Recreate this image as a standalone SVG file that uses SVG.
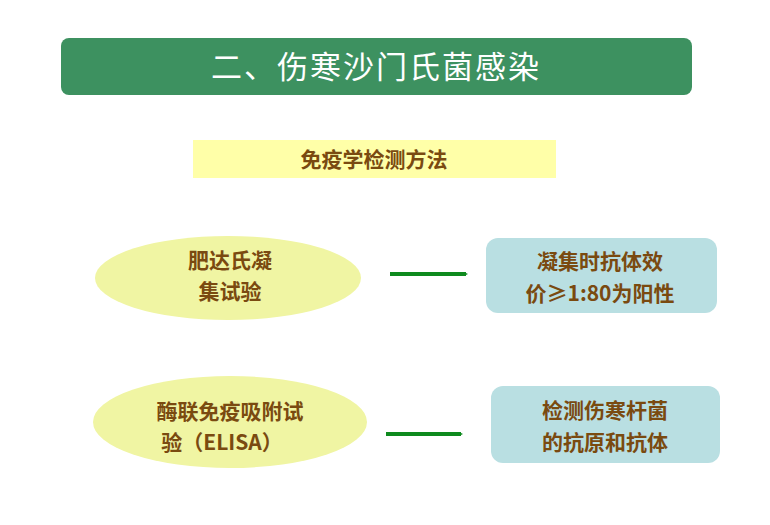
<svg xmlns="http://www.w3.org/2000/svg" width="770" height="525" viewBox="0 0 770 525">
<style>
.t{font-family:"Noto Sans CJK SC","Liberation Serif",serif;fill:#7a4a10;font-size:21px;font-weight:bold;text-anchor:middle}
.e{fill:#f0f5a3}
.b{fill:#b9dfe2}
.a{stroke:#0e8a1e;stroke-width:4;fill:none;marker-end:url(#ah)}
</style>
<defs><marker id="ah" markerWidth="4" markerHeight="4" refX="2" refY="2" orient="auto" markerUnits="userSpaceOnUse" viewBox="0 0 4 4"><path d="M0,0L4,2L0,4z" fill="#0e8a1e"/></marker></defs>
<rect width="770" height="525" fill="#fff"/>
<g id="title"><rect x="61" y="38" width="631" height="57" rx="8" fill="#3d9160"/>
<text x="376" y="78" font-family="Noto Sans CJK SC,sans-serif" font-size="31" fill="#fff" text-anchor="middle" letter-spacing="2">二、伤寒沙门氏菌感染</text></g>
<g id="sub"><rect x="193" y="140" width="363" height="38" fill="#ffffa8"/><text class="t" x="374" y="167" font-size="20">免疫学检测方法</text></g>
<g id="n1"><ellipse class="e" cx="228" cy="278" rx="133" ry="42"/><text class="t" x="230" y="268">肥达氏凝</text><text class="t" x="230" y="299">集试验</text></g>
<g id="n2"><rect class="b" x="486" y="238" width="231" height="75" rx="12"/><text class="t" x="600" y="269">凝集时抗体效</text><text class="t" x="600" y="301">价≥1:80为阳性</text></g>
<g id="n3"><ellipse class="e" cx="230" cy="422" rx="137" ry="46"/><text class="t" x="230" y="419">酶联免疫吸附试</text><text class="t" x="222" y="450">验（ELISA）</text></g>
<g id="n4"><rect class="b" x="491" y="386" width="229" height="77" rx="12"/><text class="t" x="605" y="418">检测伤寒杆菌</text><text class="t" x="605" y="450">的抗原和抗体</text></g>
<g id="edges"><line class="a" x1="390" y1="274" x2="466" y2="274"/><line class="a" x1="386" y1="434" x2="461" y2="434"/></g>
</svg>
